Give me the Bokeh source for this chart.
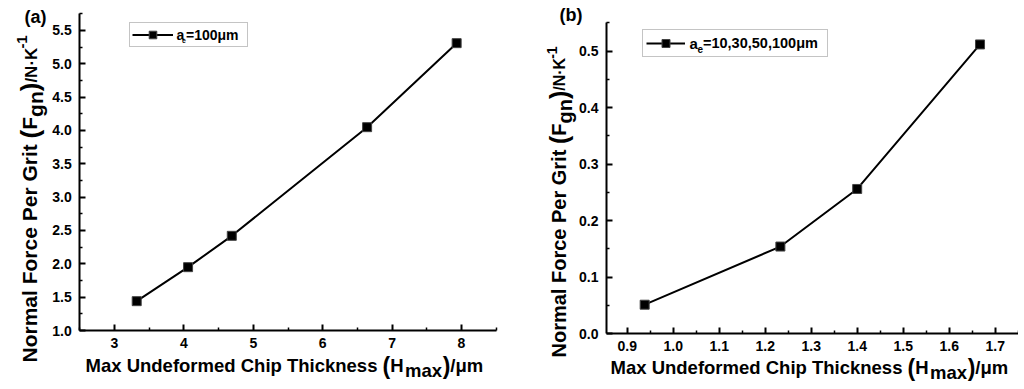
import math
from bokeh.plotting import figure
from bokeh.models import (Range1d, FixedTicker, PrintfTickFormatter, Label,
                          Legend, LegendItem, LinearAxis)
from bokeh.layouts import row
from bokeh.embed import file_html
from bokeh.resources import INLINE

# ---------------- data ----------------
h_max_a = [3.32, 4.06, 4.69, 6.64, 7.93]
fgn_a = [1.44, 1.95, 2.42, 4.05, 5.31]
h_max_b = [0.938, 1.233, 1.40, 1.667]
fgn_b = [0.051, 0.154, 0.256, 0.512]

xticks_a = [3, 4, 5, 6, 7, 8]
xminor_a = [2.5, 3.5, 4.5, 5.5, 6.5, 7.5, 8.5]
yticks_a = [1.0, 1.5, 2.0, 2.5, 3.0, 3.5, 4.0, 4.5, 5.0, 5.5]
yminor_a = [1.25, 1.75, 2.25, 2.75, 3.25, 3.75, 4.25, 4.75, 5.25, 5.75]
xticks_b = [0.9, 1.0, 1.1, 1.2, 1.3, 1.4, 1.5, 1.6, 1.7]
xminor_b = [0.95, 1.05, 1.15, 1.25, 1.35, 1.45, 1.55, 1.65, 1.75]
yticks_b = [0.0, 0.1, 0.2, 0.3, 0.4, 0.5]
yminor_b = [0.05, 0.15, 0.25, 0.35, 0.45, 0.55]

FONT = "Liberation Sans"

# Arial/Helvetica bold advance widths (per 1000 em)
W = {' ': 278, 'M': 833, 'a': 556, 'x': 556, 'U': 722, 'n': 611, 'd': 611,
     'e': 556, 'f': 333, 'o': 611, 'r': 389, 'm': 889, 'C': 722, 'h': 611,
     'i': 278, 'p': 611, 'T': 611, 'c': 556, 'k': 556, 's': 556, '(': 333,
     ')': 333, 'H': 722, '/': 278, 'μ': 611, 'N': 722, 'l': 278, 'F': 611,
     'P': 667, 'G': 778, 't': 333, 'g': 611, '·': 278, 'K': 722, '-': 333,
     ',': 278, '=': 584, 'b': 611}
for d in "0123456789":
    W[d] = 556

FIG_H = 386
MID = 0.35  # baseline -> middle of text box, in em


def tw(s, size):
    return sum(W.get(c, 556) for c in s) * size / 1000.0


def put(p, left, px, py, text, size, angle=0.0):
    # (px, py) is the baseline start in page pixels
    if angle:
        cx, cy = px - MID * size, py
    else:
        cx, cy = px, py - MID * size
    p.add_layout(Label(x=cx - left, y=FIG_H - cy, x_units="screen", y_units="screen",
                       text=text, text_font=FONT, text_font_style="bold",
                       text_font_size=f"{size}px", text_color="black",
                       text_align="left", text_baseline="middle",
                       angle=angle, angle_units="deg"))


def hlabel(p, left, x0, base, pieces):
    x = x0
    for text, size, dy, gap in pieces:
        x += gap
        put(p, left, x, base + dy, text, size)
        x += tw(text, size)


def vlabel(p, left, base, y0, pieces):
    y = y0
    for text, size, dx, gap in pieces:
        y -= gap
        put(p, left, base + dx, y, text, size, angle=90)
        y -= tw(text, size)


def style_axis(ax, standoff):
    ax.axis_line_width = 2
    ax.axis_line_color = "black"
    ax.major_tick_line_width = 2
    ax.minor_tick_line_width = 1.5
    ax.major_tick_line_color = "black"
    ax.minor_tick_line_color = "black"
    ax.major_tick_in = 6
    ax.major_tick_out = 0
    ax.minor_tick_in = 3
    ax.minor_tick_out = 0
    ax.major_label_text_font = FONT
    ax.major_label_text_font_style = "bold"
    ax.major_label_text_font_size = "14px"
    ax.major_label_text_color = "black"
    ax.major_label_standoff = standoff


def make_fig(left, width, xanchor, xpx, xscale, yanchor, ypx, yscale,
             xbounds, ybounds, xt, xm, yt, ym, xfmt, yfmt):
    # map data to page pixels: frame covers the whole figure
    x0 = xanchor - (xpx - left) / xscale
    x1 = x0 + width / xscale
    y0 = yanchor - (FIG_H - ypx) / yscale
    y1 = y0 + FIG_H / yscale
    p = figure(width=width, height=FIG_H, output_backend="svg",
               toolbar_location=None, x_range=Range1d(x0, x1),
               y_range=Range1d(y0, y1), x_axis_location=None,
               y_axis_location=None, min_border=0, min_border_left=0,
               min_border_right=0, min_border_top=0, min_border_bottom=0)
    p.outline_line_color = None
    p.grid.visible = False
    p.background_fill_color = "white"
    p.border_fill_color = "white"
    xax = LinearAxis(fixed_location=ybounds[0], bounds=xbounds,
                     ticker=FixedTicker(ticks=xt, minor_ticks=xm))
    yax = LinearAxis(fixed_location=xbounds[0], bounds=ybounds,
                     ticker=FixedTicker(ticks=yt, minor_ticks=ym))
    if xfmt:
        xax.formatter = PrintfTickFormatter(format=xfmt)
    if yfmt:
        yax.formatter = PrintfTickFormatter(format=yfmt)
    style_axis(xax, 7)
    style_axis(yax, 8)
    p.add_layout(xax, "below")
    p.add_layout(yax, "left")
    return p


def add_series(p, xs, ys, loc, pad, gw, gh, lw):
    ln = p.line(xs, ys, line_color="black", line_width=2)
    sc = p.scatter(xs, ys, marker="square", size=9, fill_color="black",
                   line_color="#444444", line_width=1)
    leg = Legend(items=[LegendItem(label=" ", renderers=[ln, sc])],
                 location=loc, padding=pad, margin=0, spacing=0,
                 glyph_width=gw, glyph_height=gh, label_standoff=4,
                 label_width=lw, label_height=gh, label_text_font_size="1px",
                 border_line_color="#8a8a8a", border_line_width=1,
                 background_fill_color="white", background_fill_alpha=0.0)
    p.add_layout(leg)


# ---------------- panel (a) ----------------
LA = 0
pa = make_fig(LA, 505, 3.0, 114.0, 69.4, 1.0, 330.0, 66.67,
              (2.5, 8.5), (1.0, 5.75), xticks_a, xminor_a, yticks_a, yminor_a,
              None, "%.1f")
add_series(pa, h_max_a, fgn_a, (129 - LA, FIG_H - 47), 2, 41, 19, 68)
put(pa, LA, 176, 39.5, "a", 14)
put(pa, LA, 181.5, 42.5, "e", 7)
put(pa, LA, 185.5, 39.5, "=100μm", 14)
put(pa, LA, 24, 23, "(a)", 18)
hlabel(pa, LA, 85, 371.5, [("Max Undeformed Chip Thickness ", 18.5, 0, 0),
                           ("(", 23, 2, 0), ("H", 18.5, 0, 0),
                           ("max", 18.5, 5, 1.5), (")", 23, 2, 0.5),
                           ("/μm", 18.5, 0, 0)])
vlabel(pa, LA, 36.5, 362, [("Normal Force Per Grit ", 21, 0, 0),
                           ("(", 26, 2, 0), ("F", 21, 0, 0),
                           ("gn", 21, 6, 0), (")", 26, 2, 0),
                           ("/N·K", 17, 0, 0), ("-1", 15, -10, 0)])

# ---------------- panel (b) ----------------
LB = 505
pb = make_fig(LB, 513, 0.9, 626.7, 460.0, 0.0, 333.0, 564.6,
              (0.855, 1.75), (0.0, 0.55), xticks_b, xminor_b, yticks_b, yminor_b,
              "%.1f", "%.1f")
add_series(pb, h_max_b, fgn_b, (642 - LB, FIG_H - 57), 3, 39, 20, 135)
put(pb, LB, 689, 48, "a", 15)
put(pb, LB, 697, 52, "e", 10)
put(pb, LB, 702.5, 48, "=10,30,50,100μm", 14.5)
put(pb, LB, 559, 21, "(b)", 18)
hlabel(pb, LB, 610, 373.5, [("Max Undeformed Chip Thickness ", 18.5, 0, 0),
                            ("(", 23, 2, 0), ("H", 18.5, 0, 0),
                            ("max", 18.5, 5, 1.5), (")", 23, 2, 0.5),
                            ("/μm", 18.5, 0, 0)])
vlabel(pb, LB, 565, 357, [("Normal Force Per Grit ", 20, 0, 0),
                          ("(", 25, 2, 0), ("F", 20, 0, 0),
                          ("gn", 20, 6, 0), (")", 25, 2, 0),
                          ("/N·K", 16, 0, 0), ("-1", 14, -9, 0)])

layout = row(pa, pb)
open("out.html", "w").write(file_html(layout, INLINE))
